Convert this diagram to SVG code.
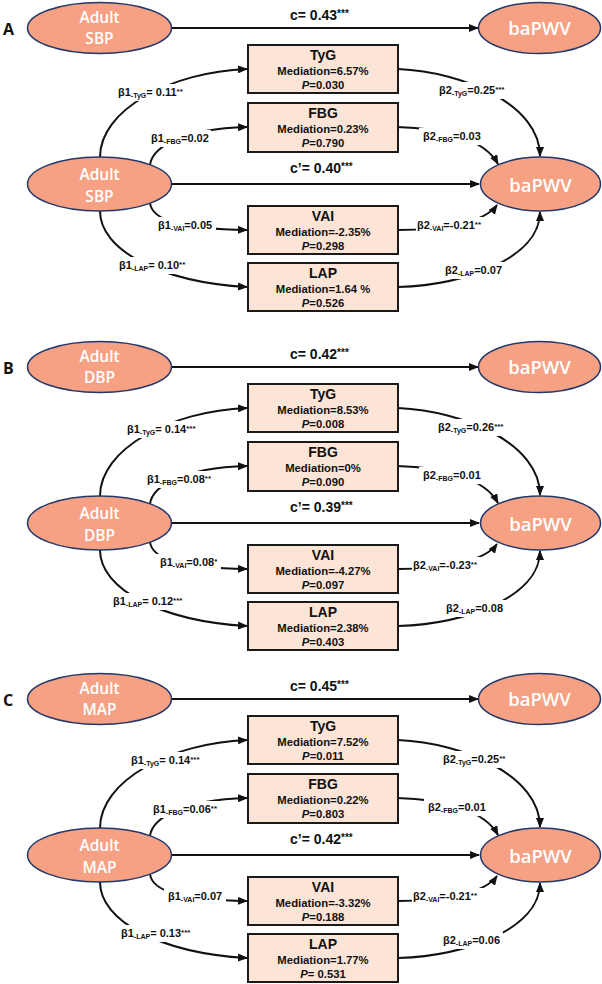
<svg xmlns="http://www.w3.org/2000/svg" width="602" height="984" viewBox="0 0 602 984">
<defs>
<marker id="ah" viewBox="0 0 10 8" refX="9" refY="4" markerWidth="10" markerHeight="8" markerUnits="userSpaceOnUse" orient="auto"><path d="M0,0 L10,4 L0,8 z" fill="#111"/></marker>
<style>
.ell{fill:#F6A183;stroke:#22386A;stroke-width:1.5}
.et{font-family:"Open Sans","DejaVu Sans",sans-serif;font-weight:600;fill:#fff;text-anchor:middle}
.e15{font-size:15.5px}
.e18{font-size:18.5px}
.box{fill:#FCE4D6;stroke:#1a1a1a;stroke-width:2}
.bt{font-family:"Liberation Sans",Arial,sans-serif;font-weight:700;fill:#111;text-anchor:middle}
.bh{font-size:14px}
.bm{font-size:11.3px}
.lab{font-family:"Liberation Sans",Arial,sans-serif;font-weight:700;font-size:11px;fill:#111}
.cl{font-family:"Liberation Sans",Arial,sans-serif;font-weight:700;font-size:14px;fill:#111}
.ln{fill:none;stroke:#111;stroke-width:2;marker-end:url(#ah)}
.bg{fill:#fff}
.pl{font-family:"Open Sans","DejaVu Sans",sans-serif;font-weight:700;font-size:16px;fill:#111}
.sm{font-size:7px}
.ss{font-size:8px}
.st{font-size:10px}
</style>
</defs>
<rect width="602" height="984" fill="#fff"/>

<!-- ================= PANEL A ================= -->
<g id="panelA">
<text class="pl" x="3" y="35">A</text>
<g id="A-connectors">
<path class="ln" d="M172,28 L478,28"/>
<path class="ln" d="M172,184 L479,184"/>
<path class="ln" d="M100,157 C100,110 170,72 247,69"/>
<path class="ln" d="M150,165 C152,148 180,129 247,127"/>
<path class="ln" d="M150,203 C152,220 180,229 247,230"/>
<path class="ln" d="M100,211 C100,250 160,282 247,287"/>
<path class="ln" d="M398,69 C465,72 540,105 540,156"/>
<path class="ln" d="M397,127 C445,128 485,140 498,164"/>
<path class="ln" d="M398,230 C445,230 485,222 497,205"/>
<path class="ln" d="M398,287 C465,285 540,258 540,212"/>
<rect class="bg" x="114" y="84" width="73" height="17"/>
<rect class="bg" x="147" y="130" width="64" height="17"/>
<rect class="bg" x="154" y="217" width="62" height="17"/>
<rect class="bg" x="115" y="257" width="73" height="17"/>
<rect class="bg" x="435" y="82" width="73" height="17"/>
<rect class="bg" x="419" y="128" width="64" height="17"/>
<rect class="bg" x="416" y="217" width="72" height="17"/>
<rect class="bg" x="441" y="262" width="64" height="17"/>
<text class="cl" x="290" y="20">c= 0.43<tspan class="st" dy="-3">***</tspan></text>
<text class="cl" x="290" y="173">c’= 0.40<tspan class="st" dy="-3">***</tspan></text>
<text class="lab" x="118" y="96">β1<tspan class="sm" dy="2">-TyG</tspan><tspan dy="-2">= 0.11</tspan><tspan class="ss" dy="-2">**</tspan></text>
<text class="lab" x="151" y="142">β1<tspan class="sm" dy="2">-FBG</tspan><tspan dy="-2">=0.02</tspan></text>
<text class="lab" x="158" y="229">β1<tspan class="sm" dy="2">-VAI</tspan><tspan dy="-2">=0.05</tspan></text>
<text class="lab" x="119" y="269">β1<tspan class="sm" dy="2">-LAP</tspan><tspan dy="-2">= 0.10</tspan><tspan class="ss" dy="-2">**</tspan></text>
<text class="lab" x="439" y="94">β2<tspan class="sm" dy="2">-TyG</tspan><tspan dy="-2">=0.25</tspan><tspan class="ss" dy="-2">***</tspan></text>
<text class="lab" x="423" y="140">β2<tspan class="sm" dy="2">-FBG</tspan><tspan dy="-2">=0.03</tspan></text>
<text class="lab" x="417" y="229">β2<tspan class="sm" dy="2">-VAI</tspan><tspan dy="-2">=-0.21</tspan><tspan class="ss" dy="-2">**</tspan></text>
<text class="lab" x="445" y="274">β2<tspan class="sm" dy="2">-LAP</tspan><tspan dy="-2">=0.07</tspan></text>
</g>
<g id="A-x-top"><ellipse class="ell" cx="99.5" cy="28" rx="72" ry="25.5"/><text class="et e15" x="99.5" y="23">Adult</text><text class="et e15" x="99.5" y="44">SBP</text></g>
<g id="A-y-top"><ellipse class="ell" cx="539.5" cy="28" rx="61" ry="25.5"/><text class="et e18" x="539.5" y="35">baPWV</text></g>
<g id="A-x"><ellipse class="ell" cx="99.5" cy="184" rx="72" ry="27"/><text class="et e15" x="99.5" y="180">Adult</text><text class="et e15" x="99.5" y="202">SBP</text></g>
<g id="A-y"><ellipse class="ell" cx="540.5" cy="184" rx="60" ry="27"/><text class="et e18" x="540.5" y="192">baPWV</text></g>
<g id="A-tyg"><rect class="box" x="248" y="45" width="150" height="48"/><text class="bt bh" x="323" y="60">TyG</text><text class="bt bm" x="323" y="74.5">Mediation=6.57%</text><text class="bt bm" x="323" y="88.5"><tspan font-style="italic">P</tspan>=0.030</text></g>
<g id="A-fbg"><rect class="box" x="248" y="103" width="150" height="49"/><text class="bt bh" x="323" y="118">FBG</text><text class="bt bm" x="323" y="132.5">Mediation=0.23%</text><text class="bt bm" x="323" y="146.5"><tspan font-style="italic">P</tspan>=0.790</text></g>
<g id="A-vai"><rect class="box" x="248" y="206" width="150" height="48"/><text class="bt bh" x="323" y="221">VAI</text><text class="bt bm" x="323" y="235.5">Mediation=-2.35%</text><text class="bt bm" x="323" y="249.5"><tspan font-style="italic">P</tspan>=0.298</text></g>
<g id="A-lap"><rect class="box" x="248" y="263" width="150" height="48"/><text class="bt bh" x="323" y="278">LAP</text><text class="bt bm" x="323" y="292.5">Mediation=1.64 %</text><text class="bt bm" x="323" y="306.5"><tspan font-style="italic">P</tspan>=0.526</text></g>
</g>

<!-- ================= PANEL B ================= -->
<g id="panelB" transform="translate(0,339)">
<text class="pl" x="3" y="35">B</text>
<g id="B-connectors">
<path class="ln" d="M172,28 L478,28"/>
<path class="ln" d="M172,184 L479,184"/>
<path class="ln" d="M100,157 C100,110 170,72 247,69"/>
<path class="ln" d="M150,165 C152,148 180,129 247,127"/>
<path class="ln" d="M150,203 C152,220 180,229 247,230"/>
<path class="ln" d="M100,211 C100,250 160,282 247,287"/>
<path class="ln" d="M398,69 C465,72 540,105 540,156"/>
<path class="ln" d="M397,127 C445,128 485,140 498,164"/>
<path class="ln" d="M398,230 C445,230 485,222 497,205"/>
<path class="ln" d="M398,287 C465,285 540,258 540,212"/>
<rect class="bg" x="123" y="82" width="76" height="17"/>
<rect class="bg" x="143" y="132" width="71" height="17"/>
<rect class="bg" x="156" y="215" width="65" height="17"/>
<rect class="bg" x="109" y="254" width="76" height="17"/>
<rect class="bg" x="434" y="80" width="73" height="17"/>
<rect class="bg" x="419" y="128" width="64" height="17"/>
<rect class="bg" x="412" y="218" width="72" height="17"/>
<rect class="bg" x="442" y="261" width="64" height="17"/>
<text class="cl" x="290" y="20">c= 0.42<tspan class="st" dy="-3">***</tspan></text>
<text class="cl" x="290" y="173">c’= 0.39<tspan class="st" dy="-3">***</tspan></text>
<text class="lab" x="127" y="94">β1<tspan class="sm" dy="2">-TyG</tspan><tspan dy="-2">= 0.14</tspan><tspan class="ss" dy="-2">***</tspan></text>
<text class="lab" x="147" y="144">β1<tspan class="sm" dy="2">-FBG</tspan><tspan dy="-2">=0.08</tspan><tspan class="ss" dy="-2">**</tspan></text>
<text class="lab" x="160" y="227">β1<tspan class="sm" dy="2">-VAI</tspan><tspan dy="-2">=0.08</tspan><tspan class="ss" dy="-2">*</tspan></text>
<text class="lab" x="113" y="266">β1<tspan class="sm" dy="2">-LAP</tspan><tspan dy="-2">= 0.12</tspan><tspan class="ss" dy="-2">***</tspan></text>
<text class="lab" x="438" y="92">β2<tspan class="sm" dy="2">-TyG</tspan><tspan dy="-2">=0.26</tspan><tspan class="ss" dy="-2">***</tspan></text>
<text class="lab" x="423" y="140">β2<tspan class="sm" dy="2">-FBG</tspan><tspan dy="-2">=0.01</tspan></text>
<text class="lab" x="413" y="230">β2<tspan class="sm" dy="2">-VAI</tspan><tspan dy="-2">=-0.23</tspan><tspan class="ss" dy="-2">**</tspan></text>
<text class="lab" x="446" y="273">β2<tspan class="sm" dy="2">-LAP</tspan><tspan dy="-2">=0.08</tspan></text>
</g>
<g id="B-x-top"><ellipse class="ell" cx="99.5" cy="28" rx="72" ry="25.5"/><text class="et e15" x="99.5" y="23">Adult</text><text class="et e15" x="99.5" y="44">DBP</text></g>
<g id="B-y-top"><ellipse class="ell" cx="539.5" cy="28" rx="61" ry="25.5"/><text class="et e18" x="539.5" y="35">baPWV</text></g>
<g id="B-x"><ellipse class="ell" cx="99.5" cy="184" rx="72" ry="27"/><text class="et e15" x="99.5" y="180">Adult</text><text class="et e15" x="99.5" y="202">DBP</text></g>
<g id="B-y"><ellipse class="ell" cx="540.5" cy="184" rx="60" ry="27"/><text class="et e18" x="540.5" y="192">baPWV</text></g>
<g id="B-tyg"><rect class="box" x="248" y="45" width="150" height="48"/><text class="bt bh" x="323" y="60">TyG</text><text class="bt bm" x="323" y="74.5">Mediation=8.53%</text><text class="bt bm" x="323" y="88.5"><tspan font-style="italic">P</tspan>=0.008</text></g>
<g id="B-fbg"><rect class="box" x="248" y="103" width="150" height="49"/><text class="bt bh" x="323" y="118">FBG</text><text class="bt bm" x="323" y="132.5">Mediation=0%</text><text class="bt bm" x="323" y="146.5"><tspan font-style="italic">P</tspan>=0.090</text></g>
<g id="B-vai"><rect class="box" x="248" y="206" width="150" height="48"/><text class="bt bh" x="323" y="221">VAI</text><text class="bt bm" x="323" y="235.5">Mediation=-4.27%</text><text class="bt bm" x="323" y="249.5"><tspan font-style="italic">P</tspan>=0.097</text></g>
<g id="B-lap"><rect class="box" x="248" y="263" width="150" height="48"/><text class="bt bh" x="323" y="278">LAP</text><text class="bt bm" x="323" y="292.5">Mediation=2.38%</text><text class="bt bm" x="323" y="306.5"><tspan font-style="italic">P</tspan>=0.403</text></g>
</g>

<!-- ================= PANEL C ================= -->
<g id="panelC" transform="translate(0,671)">
<text class="pl" x="3" y="35">C</text>
<g id="C-connectors">
<path class="ln" d="M172,28 L478,28"/>
<path class="ln" d="M172,184 L479,184"/>
<path class="ln" d="M100,157 C100,110 170,72 247,69"/>
<path class="ln" d="M150,165 C152,148 180,129 247,127"/>
<path class="ln" d="M150,203 C152,220 180,229 247,230"/>
<path class="ln" d="M100,211 C100,250 160,282 247,287"/>
<path class="ln" d="M398,69 C465,72 540,105 540,156"/>
<path class="ln" d="M397,127 C445,128 485,140 498,164"/>
<path class="ln" d="M398,230 C445,230 485,222 497,205"/>
<path class="ln" d="M398,287 C465,285 540,258 540,212"/>
<rect class="bg" x="127" y="81" width="76" height="17"/>
<rect class="bg" x="149" y="130" width="71" height="17"/>
<rect class="bg" x="164" y="217" width="62" height="17"/>
<rect class="bg" x="117" y="254" width="76" height="17"/>
<rect class="bg" x="439" y="80" width="70" height="17"/>
<rect class="bg" x="424" y="128" width="64" height="17"/>
<rect class="bg" x="412" y="217" width="72" height="17"/>
<rect class="bg" x="439" y="261" width="64" height="17"/>
<text class="cl" x="290" y="20">c= 0.45<tspan class="st" dy="-3">***</tspan></text>
<text class="cl" x="290" y="173">c’= 0.42<tspan class="st" dy="-3">***</tspan></text>
<text class="lab" x="131" y="93">β1<tspan class="sm" dy="2">-TyG</tspan><tspan dy="-2">= 0.14</tspan><tspan class="ss" dy="-2">***</tspan></text>
<text class="lab" x="153" y="142">β1<tspan class="sm" dy="2">-FBG</tspan><tspan dy="-2">=0.06</tspan><tspan class="ss" dy="-2">**</tspan></text>
<text class="lab" x="168" y="229">β1<tspan class="sm" dy="2">-VAI</tspan><tspan dy="-2">=0.07</tspan></text>
<text class="lab" x="121" y="266">β1<tspan class="sm" dy="2">-LAP</tspan><tspan dy="-2">= 0.13</tspan><tspan class="ss" dy="-2">***</tspan></text>
<text class="lab" x="443" y="92">β2<tspan class="sm" dy="2">-TyG</tspan><tspan dy="-2">=0.25</tspan><tspan class="ss" dy="-2">**</tspan></text>
<text class="lab" x="428" y="140">β2<tspan class="sm" dy="2">-FBG</tspan><tspan dy="-2">=0.01</tspan></text>
<text class="lab" x="413" y="229">β2<tspan class="sm" dy="2">-VAI</tspan><tspan dy="-2">=-0.21</tspan><tspan class="ss" dy="-2">**</tspan></text>
<text class="lab" x="443" y="273">β2<tspan class="sm" dy="2">-LAP</tspan><tspan dy="-2">=0.06</tspan></text>
</g>
<g id="C-x-top"><ellipse class="ell" cx="99.5" cy="28" rx="72" ry="25.5"/><text class="et e15" x="99.5" y="23">Adult</text><text class="et e15" x="99.5" y="44">MAP</text></g>
<g id="C-y-top"><ellipse class="ell" cx="539.5" cy="28" rx="61" ry="25.5"/><text class="et e18" x="539.5" y="35">baPWV</text></g>
<g id="C-x"><ellipse class="ell" cx="99.5" cy="184" rx="72" ry="27"/><text class="et e15" x="99.5" y="180">Adult</text><text class="et e15" x="99.5" y="202">MAP</text></g>
<g id="C-y"><ellipse class="ell" cx="540.5" cy="184" rx="60" ry="27"/><text class="et e18" x="540.5" y="192">baPWV</text></g>
<g id="C-tyg"><rect class="box" x="248" y="45" width="150" height="48"/><text class="bt bh" x="323" y="60">TyG</text><text class="bt bm" x="323" y="74.5">Mediation=7.52%</text><text class="bt bm" x="323" y="88.5"><tspan font-style="italic">P</tspan>=0.011</text></g>
<g id="C-fbg"><rect class="box" x="248" y="103" width="150" height="49"/><text class="bt bh" x="323" y="118">FBG</text><text class="bt bm" x="323" y="132.5">Mediation=0.22%</text><text class="bt bm" x="323" y="146.5"><tspan font-style="italic">P</tspan>=0.803</text></g>
<g id="C-vai"><rect class="box" x="248" y="206" width="150" height="48"/><text class="bt bh" x="323" y="221">VAI</text><text class="bt bm" x="323" y="235.5">Mediation=-3.32%</text><text class="bt bm" x="323" y="249.5"><tspan font-style="italic">P</tspan>=0.188</text></g>
<g id="C-lap"><rect class="box" x="248" y="263" width="150" height="48"/><text class="bt bh" x="323" y="278">LAP</text><text class="bt bm" x="323" y="292.5">Mediation=1.77%</text><text class="bt bm" x="323" y="306.5"><tspan font-style="italic">P</tspan>= 0.531</text></g>
</g>
</svg>
